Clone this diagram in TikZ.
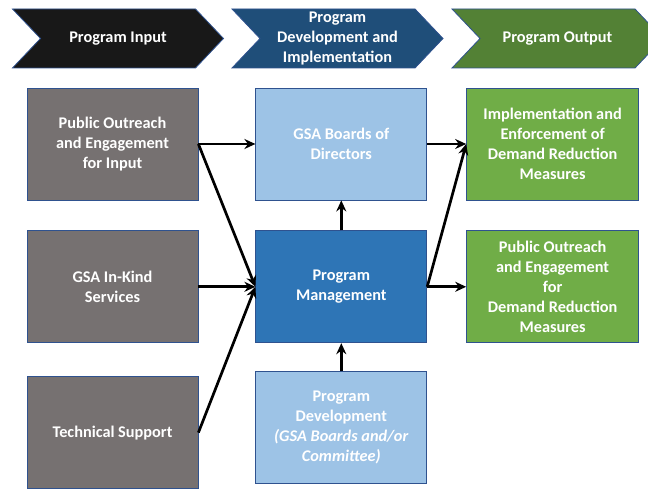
\documentclass[tikz,border=0pt]{standalone}
\usepackage{fontspec}
\setmainfont{Carlito}
\usepackage{tikz}
\usetikzlibrary{positioning}
\usetikzlibrary{shapes.symbols}
\usetikzlibrary{arrows.meta}
\definecolor[named]{chevblack}{RGB}{24,24,24}
\definecolor[named]{chevblue}{RGB}{31,78,121}
\definecolor[named]{chevgreen}{RGB}{83,129,53}
\definecolor[named]{inputgray}{RGB}{118,113,113}
\definecolor[named]{boardblue}{RGB}{157,195,230}
\definecolor[named]{mgmtblue}{RGB}{46,117,182}
\definecolor[named]{outgreen}{RGB}{112,173,71}
\definecolor[named]{edgeblue}{RGB}{47,82,143}

\begin{document}
\begin{tikzpicture}
    [x=1pt,y=-1pt,node distance=30pt and 57pt,
     box/.style={rectangle,minimum width=171pt,minimum height=112pt,inner sep=2pt,draw=edgeblue,line width=0.8pt,text=white,font=\fontsize{16.3}{20}\selectfont\bfseries,align=center},
     chev/.style={signal,signal to=east,signal from=west,signal pointer angle=93,minimum width=211pt,minimum height=59pt,inner sep=0pt,draw=edgeblue,line width=0.8pt,text=white,font=\fontsize{16.3}{20}\selectfont\bfseries,align=center},
     link/.style={-{Stealth[length=11pt,width=10pt]},line width=2.7pt}]
    \useasboundingbox (0,0) rectangle (648,489);
    % header chevrons
    \node [chev,fill=chevblack] (InputHead) at (118,38.5) {Program Input};
    \node [chev,fill=chevblue] (DevHead) at (337.5,38.5) {Program\\Development and\\Implementation};
    \node [chev,fill=chevgreen] (OutputHead) at (557.5,38.5) {Program Output};
    % input column
    \node [box,fill=inputgray] (PubIn) at (112.5,144) {Public Outreach\\and Engagement\\for Input};
    \node [box,fill=inputgray,below=of PubIn] (InKind) {GSA In-Kind\\Services};
    \node [box,fill=inputgray,below=33pt of InKind] (TechSup) {Technical Support};
    % development column
    \node [box,fill=boardblue,right=of PubIn] (Boards) {GSA Boards of\\Directors};
    \node [box,fill=mgmtblue,below=of Boards] (Mgmt) {Program\\Management};
    \node [box,fill=boardblue,below=28pt of Mgmt] (Dev) {Program\\Development\\\textit{(GSA Boards and/or}\\\textit{Committee)}};
    % output column
    \node [box,fill=outgreen,minimum width=172pt,right=39pt of Boards] (Enforce) {Implementation and\\Enforcement of\\Demand Reduction\\Measures};
    \node [box,fill=outgreen,minimum width=172pt,below=of Enforce] (PubOut) {Public Outreach\\and Engagement\\for\\Demand Reduction\\Measures};
    \draw [link] (PubIn.east) -- (Boards.west);
    \draw [link] (PubIn.east) -- (Mgmt.west);
    \draw [link] (InKind) -- (Mgmt);
    \draw [link] (TechSup.east) -- (Mgmt.west);
    \draw [link] (Mgmt) -- (Boards);
    \draw [link] (Dev) -- (Mgmt);
    \draw [link] (Boards) -- (Enforce);
    \draw [link] (Mgmt.east) -- (Enforce.west);
    \draw [link] (Mgmt) -- (PubOut);
\end{tikzpicture}
\end{document}
